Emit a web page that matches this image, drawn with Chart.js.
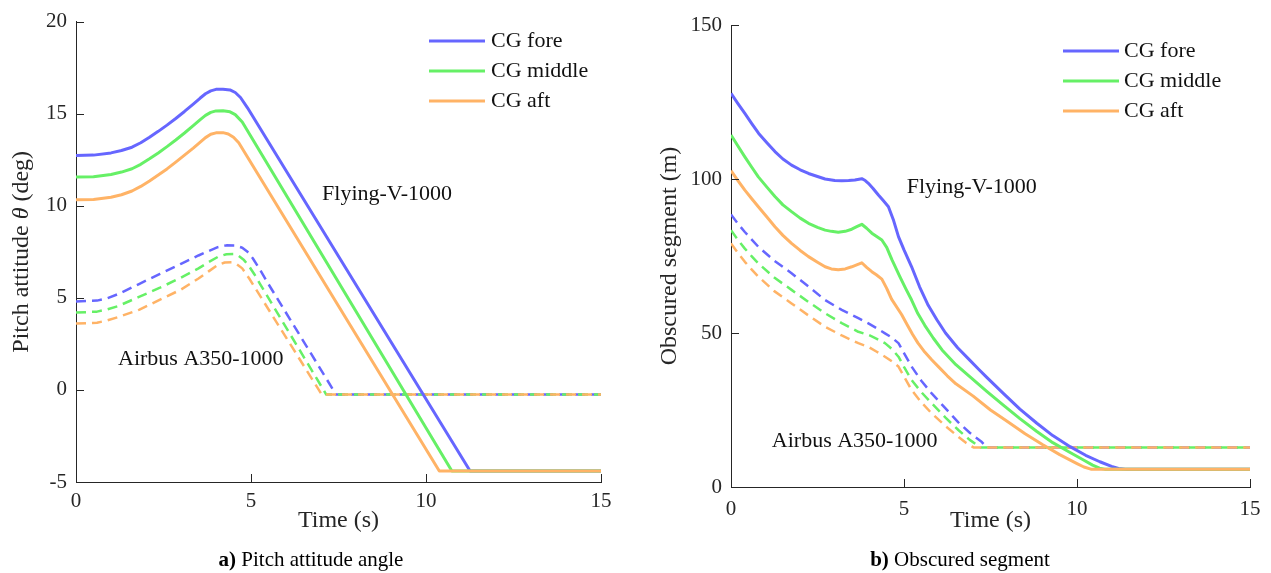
<!DOCTYPE html>
<html>
<head>
<meta charset="utf-8">
<script src="https://cdn.jsdelivr.net/npm/chart.js@4.4.1/dist/chart.umd.min.js"></script>
<style>
  html, body { margin: 0; padding: 0; background: #fff; }
  body { width: 1271px; height: 573px; position: relative; overflow: hidden; font-family: 'Liberation Serif', 'Times New Roman', serif; }
  .panel { position: absolute; top: 0; }
  .caption { position: absolute; top: 559px; transform: translate(-50%, -50%); font-size: 21px; white-space: nowrap; color: #000; line-height: 1; }
</style>
</head>
<body>
<div class="panel" style="left:0"><canvas id="pitchChart" width="640" height="573"></canvas></div>
<div class="panel" style="left:640px"><canvas id="obscuredChart" width="631" height="573"></canvas></div>
<div class="caption" style="left:311px"><b>a)</b> Pitch attitude angle</div>
<div class="caption" style="left:960px"><b>b)</b> Obscured segment</div>
<script>
// series names / colours (fore, middle, aft)
const seriesNames = ["CG fore", "CG middle", "CG aft"];
const seriesColors = ["#6666FF", "#66F066", "#FFB366"];

// a) pitch attitude (deg) - Flying-V-1000, solid
const pitchFvForeT = [0, 0.5, 1.0, 1.3, 1.6, 1.85, 2.1, 2.35, 2.6, 2.85, 3.1, 3.35, 3.55, 3.7, 3.85, 4.0, 4.2, 4.4, 4.55, 4.7, 4.9, 11.26, 15];
const pitchFvForeV = [12.73, 12.75, 12.87, 13.0, 13.18, 13.42, 13.72, 14.04, 14.38, 14.74, 15.12, 15.52, 15.85, 16.08, 16.24, 16.32, 16.33, 16.29, 16.15, 15.88, 15.32, -4.4, -4.4];
const pitchFvMidT = [0, 0.5, 1.0, 1.3, 1.6, 1.85, 2.1, 2.35, 2.6, 2.85, 3.1, 3.35, 3.55, 3.7, 3.85, 4.0, 4.2, 4.4, 4.55, 4.75, 10.74, 15];
const pitchFvMidV = [11.56, 11.58, 11.7, 11.83, 12.01, 12.25, 12.55, 12.87, 13.21, 13.57, 13.95, 14.35, 14.68, 14.91, 15.07, 15.15, 15.16, 15.1, 14.95, 14.55, -4.4, -4.4];
const pitchFvAftT = [0, 0.5, 1.0, 1.3, 1.6, 1.85, 2.1, 2.35, 2.6, 2.85, 3.1, 3.35, 3.55, 3.7, 3.85, 4.0, 4.2, 4.35, 4.5, 4.65, 10.38, 15];
const pitchFvAftV = [10.32, 10.34, 10.46, 10.6, 10.8, 11.05, 11.35, 11.67, 12.0, 12.37, 12.75, 13.13, 13.45, 13.7, 13.88, 13.96, 13.97, 13.9, 13.72, 13.42, -4.4, -4.4];

// a) pitch attitude (deg) - Airbus A350-1000, dashed
const pitchAbForeT = [0, 0.6, 0.9, 1.2, 1.8, 2.4, 3.0, 3.5, 3.8, 4.05, 4.3, 4.55, 4.75, 4.9, 5.05, 5.25, 5.45, 7.43, 15];
const pitchAbForeV = [4.8, 4.85, 4.98, 5.2, 5.75, 6.3, 6.85, 7.3, 7.55, 7.75, 7.85, 7.84, 7.72, 7.5, 7.15, 6.55, 5.9, -0.25, -0.25];
const pitchAbMidT = [0, 0.6, 0.9, 1.2, 1.8, 2.4, 3.0, 3.5, 3.8, 4.05, 4.3, 4.5, 4.65, 4.8, 4.95, 5.1, 5.26, 7.15, 15];
const pitchAbMidV = [4.2, 4.25, 4.38, 4.55, 5.05, 5.55, 6.1, 6.6, 6.95, 7.22, 7.37, 7.38, 7.27, 7.05, 6.7, 6.27, 5.75, -0.25, -0.25];
const pitchAbAftT = [0, 0.6, 0.9, 1.2, 1.8, 2.4, 3.0, 3.5, 3.8, 4.05, 4.25, 4.45, 4.6, 4.75, 4.95, 7.02, 15];
const pitchAbAftV = [3.6, 3.65, 3.78, 3.95, 4.35, 4.9, 5.45, 6.05, 6.45, 6.78, 6.92, 6.93, 6.82, 6.6, 6.05, -0.25, -0.25];

// b) obscured segment (m) - Flying-V-1000, solid
const obsFvForeT = [0, 0.2, 0.4, 0.6, 0.8, 1.05, 1.27, 1.5, 1.75, 2.0, 2.24, 2.5, 2.72, 3.0, 3.2, 3.4, 3.58, 3.78, 3.88, 3.97, 4.1, 4.26, 4.4, 4.55, 4.7, 4.84, 5.0, 5.22, 5.45, 5.7, 5.95, 6.2, 6.55, 6.9, 7.15, 7.4, 7.87, 8.35, 8.84, 9.3, 9.8, 10.25, 10.66, 11.0, 11.2, 11.4, 15];
const obsFvForeV = [127.8, 124.5, 121.3, 118, 114.8, 111.6, 108.9, 106.5, 104.5, 103, 101.8, 100.8, 100.0, 99.5, 99.4, 99.5, 99.7, 100.1, 99.5, 98.6, 97, 94.8, 93, 91.0, 86.5, 81.3, 77, 71.5, 65, 59, 54.3, 50, 45.2, 41.2, 38.3, 35.5, 30.4, 25.3, 20.7, 16.7, 13.1, 10.3, 8.2, 6.7, 6.0, 5.8, 5.8];
const obsFvMidT = [0, 0.2, 0.4, 0.6, 0.79, 1.05, 1.27, 1.5, 1.75, 2.0, 2.24, 2.5, 2.72, 2.9, 3.1, 3.3, 3.49, 3.65, 3.78, 3.92, 4.07, 4.2, 4.36, 4.5, 4.65, 4.88, 5.05, 5.22, 5.4, 5.6, 5.85, 6.1, 6.5, 6.9, 7.4, 7.87, 8.35, 8.84, 9.3, 9.8, 10.15, 10.45, 10.65, 10.8, 15];
const obsFvMidV = [114.3, 110.7, 107.2, 103.8, 100.7, 97.2, 94.3, 91.6, 89.4, 87.3, 85.6, 84.3, 83.4, 83.0, 82.7, 83.0, 83.7, 84.6, 85.3, 84.0, 82.4, 81.4, 80.2, 77.8, 73.8, 68.3, 64.4, 60.7, 56.3, 52.5, 48.3, 44.5, 39.7, 35.8, 31, 26.6, 22.2, 18, 14.4, 11.2, 9, 7.1, 6.1, 5.8, 5.8];
const obsFvAftT = [0, 0.2, 0.4, 0.6, 0.79, 1.05, 1.27, 1.5, 1.75, 2.0, 2.24, 2.5, 2.72, 2.9, 3.1, 3.3, 3.49, 3.65, 3.78, 3.92, 4.07, 4.2, 4.36, 4.5, 4.64, 4.93, 5.1, 5.25, 5.4, 5.6, 5.8, 6.0, 6.25, 6.5, 7.0, 7.5, 8.0, 8.5, 9.0, 9.5, 10.0, 10.2, 10.4, 15];
const obsFvAftV = [102.7, 99.5, 96.4, 93.6, 91.0, 87.5, 84.5, 81.7, 79.1, 76.8, 74.8, 73.0, 71.5, 70.8, 70.5, 70.8, 71.5, 72.2, 72.8, 71.3, 69.9, 68.9, 67.5, 64.5, 61, 56, 52.5, 49.5, 46.8, 43.8, 41.3, 39, 36.1, 33.5, 29.5, 25, 21.2, 17.3, 13.8, 10.5, 7.6, 6.5, 5.8, 5.8];

// b) obscured segment (m) - Airbus A350-1000, dashed
const obsAbForeT = [0, 0.2, 0.4, 0.6, 0.79, 1.25, 1.75, 2.25, 2.72, 3.2, 3.68, 3.97, 4.2, 4.45, 4.65, 4.84, 5.0, 5.22, 5.5, 5.8, 6.2, 6.57, 6.9, 7.25, 7.4, 15];
const obsAbForeV = [88.5, 85.5, 82.8, 80.3, 78.0, 73.5, 69.4, 65, 60.7, 57.5, 54.8, 53.1, 51.6, 49.9, 48.5, 46.7, 43.5, 39.1, 34.5, 30.4, 25.5, 21.0, 17.6, 14.6, 12.8, 12.8];
const obsAbMidT = [0, 0.2, 0.4, 0.6, 0.79, 1.25, 1.75, 2.25, 2.72, 3.2, 3.68, 3.97, 4.2, 4.45, 4.65, 4.84, 5.0, 5.22, 5.5, 5.8, 6.2, 6.57, 6.9, 7.15, 7.22, 15];
const obsAbMidV = [83.4, 80.2, 77.4, 74.9, 72.6, 68.0, 64.0, 60.0, 56.4, 53.2, 50.4, 49.4, 48.2, 46.7, 44.8, 42.3, 39.0, 34.7, 30.8, 27.2, 22.5, 18.5, 15.3, 13.3, 12.8, 12.8];
const obsAbAftT = [0, 0.2, 0.4, 0.6, 0.79, 1.25, 1.75, 2.25, 2.72, 3.2, 3.68, 3.97, 4.2, 4.45, 4.65, 4.84, 5.0, 5.22, 5.5, 5.8, 6.2, 6.57, 6.8, 6.96, 7.02, 15];
const obsAbAftV = [79.1, 76.0, 73.1, 70.6, 68.3, 63.6, 59.6, 55.6, 52.0, 49.2, 46.7, 45.5, 44.0, 42.3, 40.8, 39.1, 35.9, 31.5, 27.5, 23.9, 19.8, 16.3, 14.3, 13.2, 12.8, 12.8];

const FONT = "'Liberation Serif', 'Times New Roman', serif";
const AXIS_COLOR = "#262626";
const TEXT_COLOR = "#111";
const TICK_LEN = 8;

Chart.defaults.font.family = FONT;
Chart.defaults.color = AXIS_COLOR;

function toPoints(t, v) {
  return t.map((x, i) => ({ x: x, y: v[i] }));
}

// solid (Flying-V) and dashed (Airbus) curves, aft drawn on top
function buildDatasets(solid, dashed) {
  const sets = [];
  for (let i = 2; i >= 0; i--) {
    sets.push({
      label: seriesNames[i],
      data: toPoints(solid[i][0], solid[i][1]),
      borderColor: seriesColors[i],
      borderWidth: 3,
    });
  }
  for (let i = 2; i >= 0; i--) {
    sets.push({
      label: seriesNames[i] + " (A350)",
      data: toPoints(dashed[i][0], dashed[i][1]),
      borderColor: seriesColors[i],
      borderWidth: 2.5,
      borderDash: [10, 6],
    });
  }
  sets.forEach((d) => {
    d.pointRadius = 0;
    d.fill = false;
    d.tension = 0;
    d.borderJoinStyle = "round";
  });
  return sets;
}

// inward tick marks like the original figure
const inwardTicks = {
  id: "inwardTicks",
  afterDraw(chart) {
    const { ctx, chartArea: a, scales } = chart;
    ctx.save();
    ctx.strokeStyle = AXIS_COLOR;
    ctx.lineWidth = 1;
    ctx.beginPath();
    scales.x.ticks.forEach((tk) => {
      const px = Math.round(scales.x.getPixelForValue(tk.value)) + 0.5;
      ctx.moveTo(px, a.bottom);
      ctx.lineTo(px, a.bottom - TICK_LEN);
    });
    scales.y.ticks.forEach((tk) => {
      const py = Math.round(scales.y.getPixelForValue(tk.value)) + 0.5;
      ctx.moveTo(a.left, py);
      ctx.lineTo(a.left + TICK_LEN, py);
    });
    ctx.stroke();
    ctx.restore();
  },
};

// vertical axis title with mixed (italic) parts
const mixedTitle = {
  id: "mixedTitle",
  afterDraw(chart, args, opts) {
    if (!opts.parts) return;
    const { ctx, chartArea: a } = chart;
    const fonts = opts.parts.map((p) => (p.italic ? "italic " : "") + opts.size + "px " + FONT);
    ctx.save();
    ctx.fillStyle = AXIS_COLOR;
    ctx.textAlign = "left";
    ctx.textBaseline = "middle";
    let total = 0;
    opts.parts.forEach((p, i) => {
      ctx.font = fonts[i];
      total += ctx.measureText(p.text).width;
    });
    ctx.translate(opts.x, (a.top + a.bottom) / 2);
    ctx.rotate(-Math.PI / 2);
    let x = -total / 2;
    opts.parts.forEach((p, i) => {
      ctx.font = fonts[i];
      ctx.fillText(p.text, x, 0);
      x += ctx.measureText(p.text).width;
    });
    ctx.restore();
  },
};

// "Flying-V-1000" / "Airbus A350-1000" labels, placed in data units
const textNotes = {
  id: "textNotes",
  afterDraw(chart, args, opts) {
    if (!opts.items) return;
    const { ctx, scales } = chart;
    ctx.save();
    ctx.font = opts.size + "px " + FONT;
    ctx.fillStyle = TEXT_COLOR;
    ctx.textAlign = "left";
    ctx.textBaseline = "middle";
    opts.items.forEach((n) => {
      ctx.fillText(n.text, scales.x.getPixelForValue(n.x), scales.y.getPixelForValue(n.y));
    });
    ctx.restore();
  },
};

// legend box with line samples (solid series only)
const lineLegend = {
  id: "lineLegend",
  afterDraw(chart, args, opts) {
    if (!opts.rows) return;
    const ctx = chart.ctx;
    ctx.save();
    ctx.font = opts.size + "px " + FONT;
    ctx.textAlign = "left";
    ctx.textBaseline = "middle";
    opts.rows.forEach((y, i) => {
      ctx.strokeStyle = seriesColors[i];
      ctx.lineWidth = 3;
      ctx.beginPath();
      ctx.moveTo(opts.x0, y);
      ctx.lineTo(opts.x1, y);
      ctx.stroke();
      ctx.fillStyle = TEXT_COLOR;
      ctx.fillText(seriesNames[i], opts.textX, y);
    });
    ctx.restore();
  },
};

function createPanel(canvasId, datasets, cfg) {
  const canvas = document.getElementById(canvasId);
  if (!canvas) return null;
  const ctx = canvas.getContext("2d");
  return new Chart(ctx, {
    type: "line",
    data: { datasets: datasets },
    options: {
      responsive: false,
      animation: false,
      devicePixelRatio: 1,
      layout: { padding: cfg.padding },
      plugins: {
        legend: { display: false },
        tooltip: { enabled: false },
        mixedTitle: cfg.yTitle,
        textNotes: { size: 22, items: cfg.notes },
        lineLegend: cfg.legend,
      },
      scales: {
        x: {
          type: "linear",
          min: 0,
          max: 15,
          ticks: {
            stepSize: 5,
            color: AXIS_COLOR,
            padding: cfg.xTickPad,
            font: { size: 21 },
          },
          grid: { display: false, drawTicks: false },
          border: { display: true, color: AXIS_COLOR, width: 1 },
          title: {
            display: true,
            text: "Time (s)",
            color: AXIS_COLOR,
            font: { size: 24 },
            padding: { top: 0, bottom: 38 },
          },
          afterFit: (s) => {
            s.height = cfg.xHeight;
          },
        },
        y: {
          type: "linear",
          min: cfg.yMin,
          max: cfg.yMax,
          ticks: {
            stepSize: cfg.yStep,
            color: AXIS_COLOR,
            padding: 9,
            font: { size: 21 },
            callback: (v) => String(v),
          },
          grid: { display: false, drawTicks: false },
          border: { display: true, color: AXIS_COLOR, width: 1 },
          afterFit: (s) => {
            s.width = cfg.yWidth;
          },
        },
      },
    },
    plugins: [inwardTicks, mixedTitle, textNotes, lineLegend],
  });
}

createPanel(
  "pitchChart",
  buildDatasets(
    [[pitchFvForeT, pitchFvForeV], [pitchFvMidT, pitchFvMidV], [pitchFvAftT, pitchFvAftV]],
    [[pitchAbForeT, pitchAbForeV], [pitchAbMidT, pitchAbMidV], [pitchAbAftT, pitchAbAftV]]
  ),
  {
    padding: { top: 17, right: 39, left: 0, bottom: 0 },
    xHeight: 91,
    yWidth: 76,
    xTickPad: 7,
    yMin: -5,
    yMax: 20,
    yStep: 5,
    yTitle: {
      x: 22,
      size: 24,
      parts: [{ text: "Pitch attitude " }, { text: "θ", italic: true }, { text: " (deg)" }],
    },
    notes: [
      { text: "Flying-V-1000", x: 7.03, y: 10.6 },
      { text: "Airbus A350-1000", x: 1.2, y: 1.69 },
    ],
    legend: { size: 22, x0: 429, x1: 485, textX: 491, rows: [41, 71, 101] },
  }
);

createPanel(
  "obscuredChart",
  buildDatasets(
    [[obsFvForeT, obsFvForeV], [obsFvMidT, obsFvMidV], [obsFvAftT, obsFvAftV]],
    [[obsAbForeT, obsAbForeV], [obsAbMidT, obsAbMidV], [obsAbAftT, obsAbAftV]]
  ),
  {
    padding: { top: 25, right: 21, left: 0, bottom: 0 },
    xHeight: 86,
    yWidth: 91,
    xTickPad: 9.5,
    yMin: 0,
    yMax: 150,
    yStep: 50,
    yTitle: {
      x: 30,
      size: 24,
      parts: [{ text: "Obscured segment (m)" }],
    },
    notes: [
      { text: "Flying-V-1000", x: 5.08, y: 97.4 },
      { text: "Airbus A350-1000", x: 1.18, y: 15.0 },
    ],
    legend: { size: 22, x0: 423, x1: 479, textX: 484, rows: [51, 81, 111] },
  }
);
</script>
</body>
</html>
